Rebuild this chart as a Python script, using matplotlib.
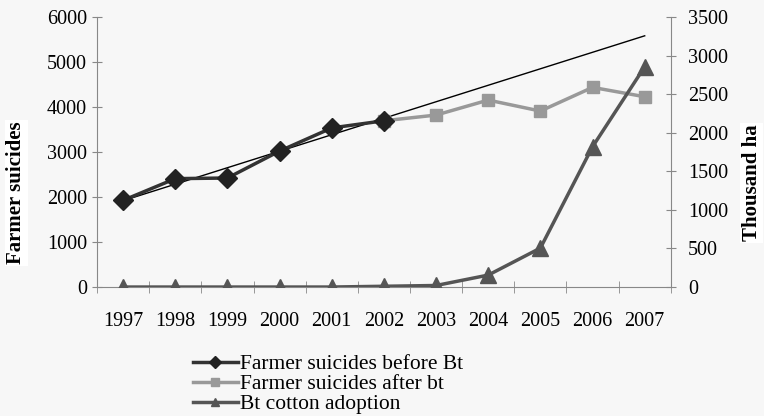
import matplotlib
matplotlib.use("Agg")
import matplotlib.pyplot as plt
from matplotlib.lines import Line2D
import numpy as np

years = ["1997", "1998", "1999", "2000", "2001", "2002", "2003", "2004", "2005", "2006", "2007"]
before_bt = [1926, 2409, 2423, 3022, 3536, 3695]
after_bt = [3695, 3822, 4155, 3911, 4437, 4229]
bt_adoption = [0, 0, 0, 0, 0, 10, 20, 155, 505, 1819, 2856]

plt.rcParams['font.family'] = ['Liberation Serif', 'DejaVu Serif']
bg = '#f7f7f7'
fig = plt.figure(figsize=(7.64, 4.16), dpi=100, facecolor=bg)
ax = fig.add_axes([0.127, 0.310, 0.751, 0.649], facecolor=bg)
ax2 = ax.twinx()

x = np.arange(len(years))
xb = x[:len(before_bt)]
xa = x[len(before_bt) - 1:]

# trendline of suicides before Bt, extended
coef = np.polyfit(xb, before_bt, 1)
ax.plot([x[0], x[-1]], np.polyval(coef, [x[0], x[-1]]), color='black', lw=1.0, zorder=2)

ax.plot(xa, after_bt, color='#999999', lw=2.5, marker='s', ms=9, zorder=3,
        label='Farmer suicides after bt')
ax.plot(xb, before_bt, color='#333333', lw=2.5, marker='D', ms=10, mfc='#222222', mec='#222222', zorder=4,
        label='Farmer suicides before Bt')
ax2.plot(x, bt_adoption, color='#555555', lw=2.5, marker='^', ms=12, zorder=3,
         label='Bt cotton adoption')

ax.set_xlim(-0.5, len(years) - 0.5)
ax.set_ylim(0, 6000)
ax2.set_ylim(0, 3500)
ax.set_yticks(range(0, 6001, 1000))
ax2.set_yticks(range(0, 3501, 500))
ax.set_xticks(x)
ax.set_xticklabels(years)
ax.set_xticks(np.arange(-0.5, len(years), 1), minor=True)

for a in (ax, ax2):
    a.spines['top'].set_visible(False)
    for s in ('left', 'right', 'bottom'):
        a.spines[s].set_color('#888888')
ax.spines['right'].set_visible(False)
ax2.spines['left'].set_visible(False)
ax2.spines['bottom'].set_visible(False)
ax.tick_params(axis='y', direction='inout', length=7, color='#888888', labelsize=14.5, pad=3.7)
ax2.tick_params(axis='y', direction='inout', length=7, color='#888888', labelsize=14.5, pad=9)
ax.tick_params(axis='x', which='major', length=0, labelsize=14.5, pad=18)
ax.tick_params(axis='x', which='minor', direction='inout', length=8, color='#888888')

fig.text(0.021, 0.536, 'Farmer suicides', rotation=90, ha='center', va='center',
         fontsize=15, fontweight='bold',
         bbox=dict(facecolor='white', edgecolor='none', pad=1))
fig.text(0.984, 0.56, 'Thousand ha', rotation=90, ha='center', va='center',
         fontsize=15, fontweight='bold',
         bbox=dict(facecolor='white', edgecolor='none', pad=1))

h1, l1 = ax.get_legend_handles_labels()
h2, l2 = ax2.get_legend_handles_labels()
handles = [h1[1], h1[0], h2[0]]
labels = [l1[1], l1[0], l2[0]]
leg_handles = [Line2D([], [], color=h.get_color(), lw=2.5, marker=h.get_marker(),
                      ms=6, mfc=h.get_markerfacecolor(), mec=h.get_markeredgecolor()) for h in handles]
fig.legend(leg_handles, labels, loc='upper left', bbox_to_anchor=(0.252, 0.149),
           frameon=False, fontsize=15.5, handlelength=2.1, handletextpad=0.1,
           labelspacing=0.0, borderpad=0, borderaxespad=0)

fig.savefig('out.png', dpi=100, facecolor=bg)
